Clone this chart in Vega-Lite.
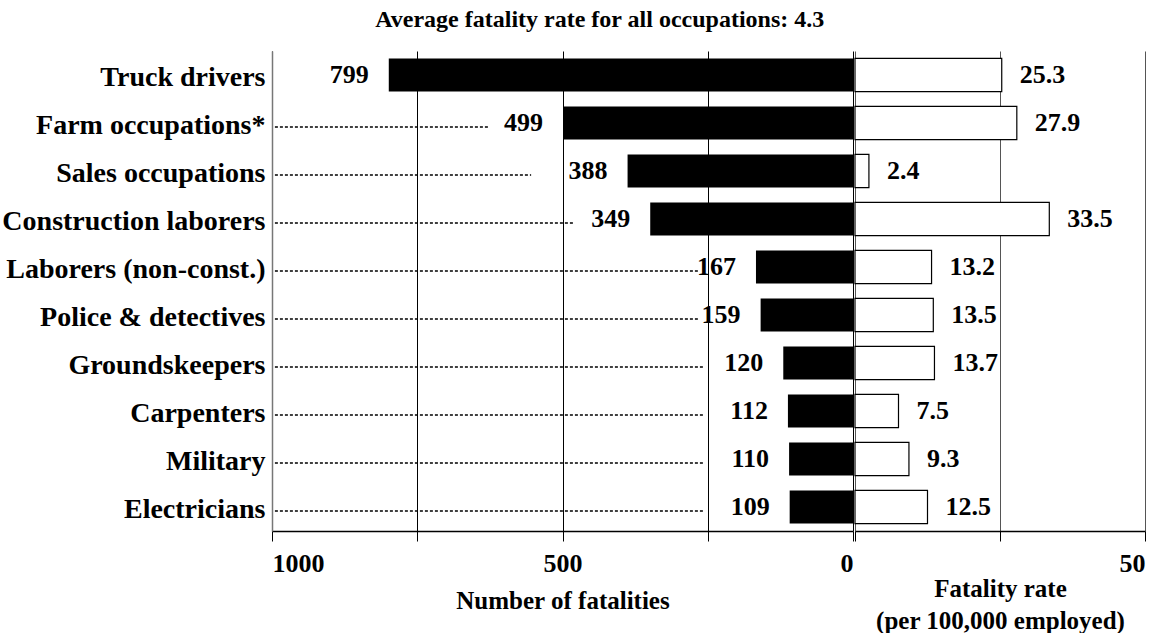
{
  "$schema": "https://vega.github.io/schema/vega-lite/v6.json",
  "background": "white",
  "padding": {"left": 0, "top": 8, "right": 0, "bottom": 0},
  "title": {
    "text": "Average fatality rate for all occupations:  4.3",
    "font": "Liberation Serif",
    "fontSize": 24,
    "fontWeight": "bold",
    "color": "black",
    "anchor": "middle",
    "dx": 27,
    "offset": 19
  },
  "config": {
    "view": {"stroke": null},
    "font": "Liberation Serif",
    "axis": {
      "labelFont": "Liberation Serif",
      "titleFont": "Liberation Serif",
      "labelColor": "black",
      "titleColor": "black",
      "labelFontWeight": "bold",
      "titleFontWeight": "bold"
    }
  },
  "datasets": {
    "occ": [
      {"occupation": "Truck drivers", "fatalities": 799, "rate": 25.3},
      {"occupation": "Farm occupations*", "fatalities": 499, "rate": 27.9},
      {"occupation": "Sales occupations", "fatalities": 388, "rate": 2.4},
      {"occupation": "Construction laborers", "fatalities": 349, "rate": 33.5},
      {"occupation": "Laborers (non-const.)", "fatalities": 167, "rate": 13.2},
      {"occupation": "Police & detectives", "fatalities": 159, "rate": 13.5},
      {"occupation": "Groundskeepers", "fatalities": 120, "rate": 13.7},
      {"occupation": "Carpenters", "fatalities": 112, "rate": 7.5},
      {"occupation": "Military", "fatalities": 110, "rate": 9.3},
      {"occupation": "Electricians", "fatalities": 109, "rate": 12.5}
    ],
    "leaders": [
      {"occupation": "Farm occupations*", "start": 995, "end": 626},
      {"occupation": "Sales occupations", "start": 995, "end": 554},
      {"occupation": "Construction laborers", "start": 995, "end": 482},
      {"occupation": "Laborers (non-const.)", "start": 995, "end": 267},
      {"occupation": "Police & detectives", "start": 995, "end": 267},
      {"occupation": "Groundskeepers", "start": 995, "end": 255},
      {"occupation": "Carpenters", "start": 995, "end": 255},
      {"occupation": "Military", "start": 995, "end": 255},
      {"occupation": "Electricians", "start": 995, "end": 255}
    ]
  },
  "spacing": 0,
  "hconcat": [
    {
      "width": 581,
      "height": 480,
      "layer": [
        {
          "data": {"name": "occ"},
          "mark": {"type": "bar", "color": "black"},
          "encoding": {
            "y": {
              "field": "occupation",
              "type": "nominal",
              "scale": {
                "domain": ["Truck drivers", "Farm occupations*", "Sales occupations", "Construction laborers", "Laborers (non-const.)", "Police & detectives", "Groundskeepers", "Carpenters", "Military", "Electricians"],
                "paddingInner": 0.31,
                "paddingOuter": 0.155
              },
              "axis": {
                "title": null,
                "labelFontSize": 28,
                "labelPadding": 7,
                "labelLimit": 400,
                "ticks": false,
                "domain": true,
                "domainColor": "#777777",
                "domainWidth": 1.5,
                "labelOffset": 3,
                "minExtent": 272,
                "maxExtent": 272
              }
            },
            "x": {
              "field": "fatalities",
              "type": "quantitative",
              "scale": {"domain": [0, 1000], "reverse": true, "nice": false},
              "axis": {
                "values": [0, 250, 500, 750, 1000],
                "labelExpr": "datum.value % 500 == 0 ? datum.label : ''",
                "format": "d",
                "labelFontSize": 26,
                "labelPadding": 9,
                "grid": true,
                "gridColor": "black",
                "gridWidth": 1,
                "domainColor": "black",
                "domainWidth": 1.5,
                "tickColor": "black",
                "tickSize": 10,
                "tickWidth": 1,
                "title": "Number of fatalities",
                "titleFontSize": 25,
                "titlePadding": 12
              }
            }
          }
        },
        {
          "data": {"name": "leaders"},
          "mark": {"type": "rule", "color": "black", "strokeDash": [3, 2], "strokeWidth": 1.5, "yOffset": 4},
          "encoding": {
            "y": {"field": "occupation", "type": "nominal"},
            "x": {"field": "start", "type": "quantitative"},
            "x2": {"field": "end"}
          }
        },
        {
          "data": {"name": "occ"},
          "mark": {"type": "text", "align": "right", "baseline": "middle", "dx": -20, "fontSize": 26, "fontWeight": "bold", "color": "black", "font": "Liberation Serif"},
          "encoding": {
            "y": {"field": "occupation", "type": "nominal"},
            "x": {"field": "fatalities", "type": "quantitative"},
            "text": {"field": "fatalities", "type": "quantitative", "format": "d"}
          }
        }
      ]
    },
    {
      "width": 290,
      "height": 480,
      "data": {"name": "occ"},
      "layer": [
        {
          "mark": {"type": "bar", "fill": "white", "stroke": "black", "strokeWidth": 1.2},
          "encoding": {
            "y": {
              "field": "occupation",
              "type": "nominal",
              "scale": {
                "domain": ["Truck drivers", "Farm occupations*", "Sales occupations", "Construction laborers", "Laborers (non-const.)", "Police & detectives", "Groundskeepers", "Carpenters", "Military", "Electricians"],
                "paddingInner": 0.31,
                "paddingOuter": 0.155
              },
              "axis": null
            },
            "x": {
              "field": "rate",
              "type": "quantitative",
              "scale": {"domain": [0, 50], "nice": false},
              "axis": {
                "values": [0, 25, 50],
                "labelExpr": "datum.value == 50 ? datum.label : ''",
                "labelFontSize": 26,
                "labelPadding": 9,
                "grid": true,
                "gridColor": "#555555",
                "gridWidth": 1,
                "domainColor": "black",
                "domainWidth": 1.5,
                "tickColor": "black",
                "tickSize": 10,
                "title": ["Fatality rate", "(per 100,000 employed)"],
                "titleFontSize": 25,
                "titleLineHeight": 32,
                "titlePadding": 0
              }
            }
          }
        },
        {
          "mark": {"type": "text", "align": "left", "baseline": "middle", "dx": 18, "fontSize": 26, "fontWeight": "bold", "color": "black", "font": "Liberation Serif"},
          "encoding": {
            "y": {"field": "occupation", "type": "nominal"},
            "x": {"field": "rate", "type": "quantitative"},
            "text": {"field": "rate", "type": "quantitative", "format": ".1f"}
          }
        }
      ]
    }
  ]
}
